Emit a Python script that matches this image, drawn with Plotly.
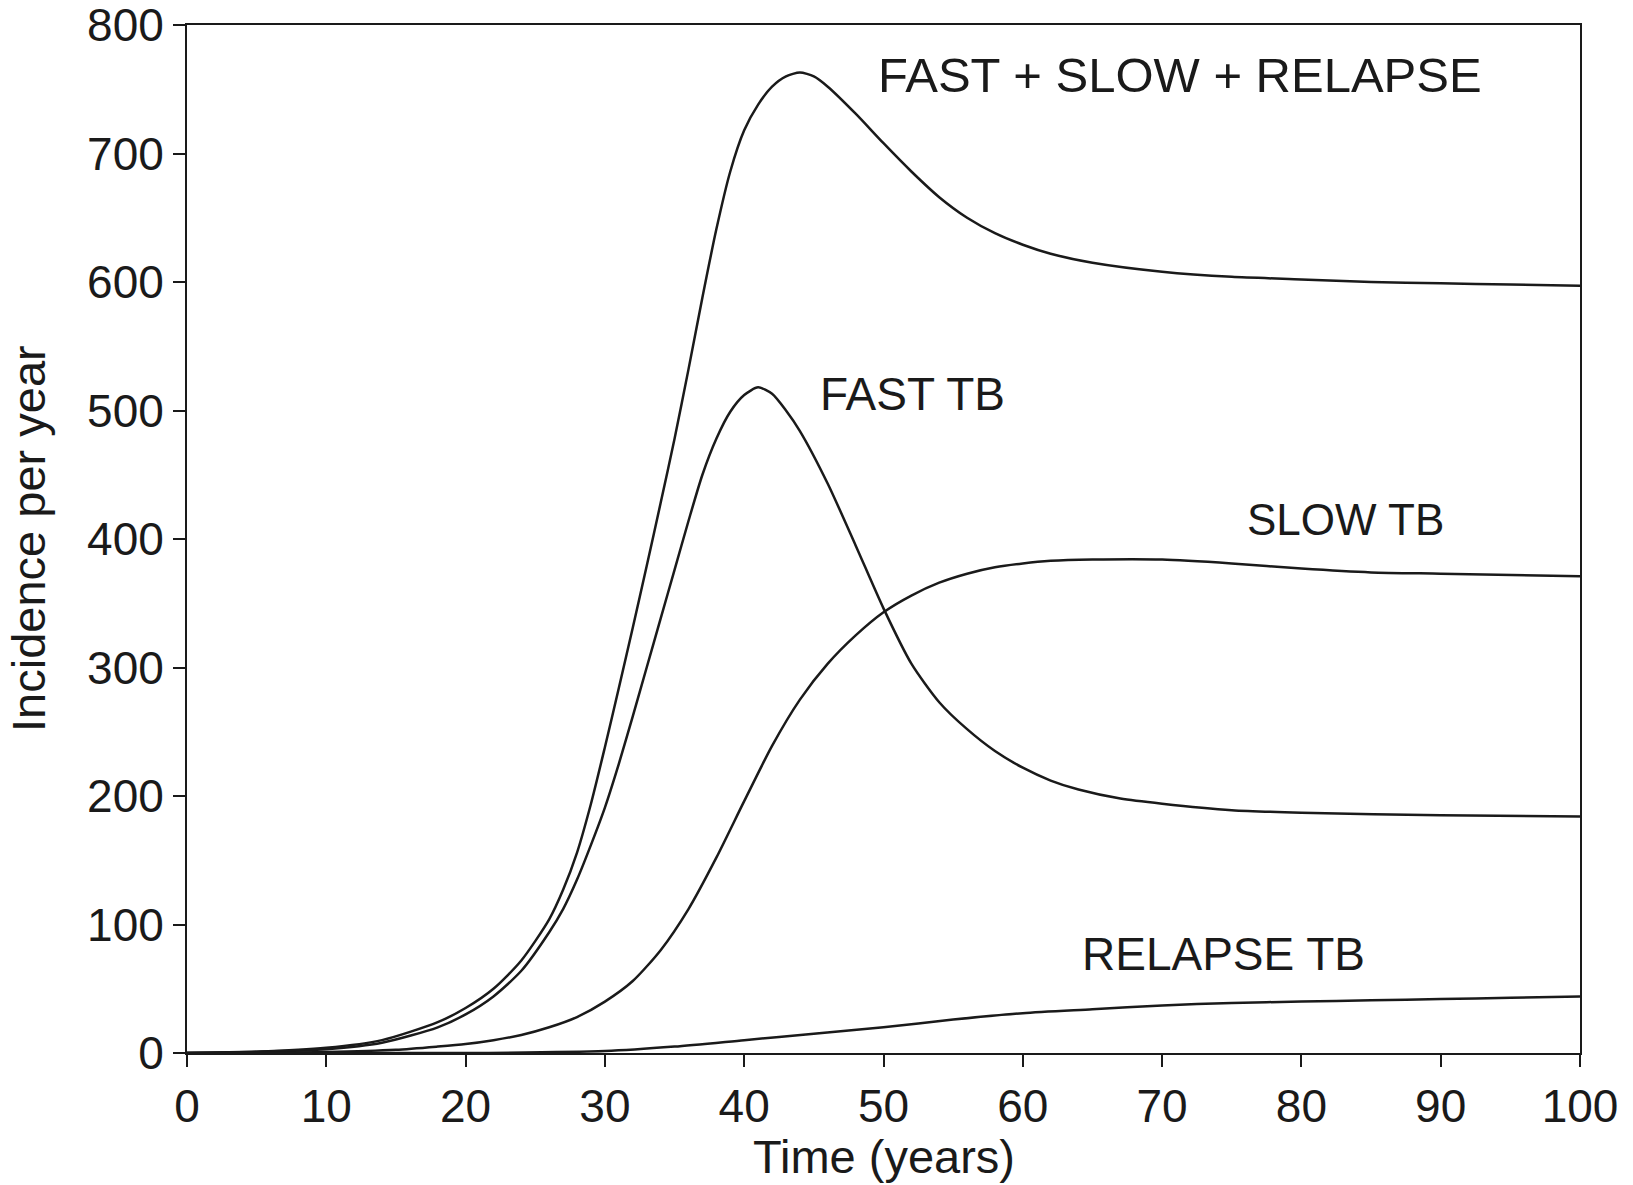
import plotly.graph_objects as go

# Time points (years) and incidence per year
t_total = [0, 5, 10, 14, 18, 20, 22, 24, 26, 27, 28, 29, 30, 31, 32, 33, 34, 35, 36, 37, 38, 39, 40, 41, 42, 43, 44, 45, 46, 48, 50, 52, 54, 56, 58, 60, 62, 65, 70, 75, 80, 85, 90, 95, 100]
total = [0, 1, 4, 10, 24, 35, 50, 72, 104, 127, 156, 194, 238, 284, 331, 379, 428, 478, 532, 588, 641, 686, 718, 738, 752, 760, 763, 760, 752, 731, 708, 686, 666, 650, 638, 629, 622, 615, 608, 604, 602, 600, 599, 598, 597]

t_fast = [0, 5, 10, 14, 18, 20, 22, 24, 26, 27, 28, 29, 30, 31, 32, 33, 34, 35, 36, 37, 38, 39, 40, 41, 42, 43, 44, 46, 48, 50, 52, 54, 56, 58, 60, 62, 64, 67, 70, 75, 80, 90, 100]
fast = [0, 1, 3, 8, 20, 30, 44, 64, 94, 112, 135, 162, 191, 225, 262, 300, 338, 376, 414, 450, 478, 499, 512, 518, 513, 500, 484, 443, 395, 346, 303, 273, 252, 235, 222, 212, 205, 198, 194, 189, 187, 185, 184]

t_slow = [0, 10, 15, 18, 20, 22, 24, 26, 28, 30, 32, 34, 36, 38, 40, 42, 44, 46, 48, 50, 52, 54, 56, 58, 60, 62, 65, 70, 75, 80, 85, 90, 100]
slow = [0, 0.8, 2.5, 5, 7, 10, 14, 20, 28, 40, 56, 80, 112, 152, 196, 239, 275, 303, 325, 343, 356, 366, 373, 378, 381, 383, 384, 384, 381, 377, 374, 373, 371]

t_relapse = [0, 20, 30, 35, 40, 45, 50, 55, 60, 65, 70, 75, 80, 85, 90, 95, 100]
relapse = [0, 0, 1.5, 5, 10, 15, 20, 26, 31, 34, 37, 39, 40, 41, 42, 43, 44]

x_ticks = [0, 10, 20, 30, 40, 50, 60, 70, 80, 90, 100]
y_ticks = [0, 100, 200, 300, 400, 500, 600, 700, 800]

labels = ["FAST + SLOW + RELAPSE", "FAST TB", "SLOW TB", "RELAPSE TB"]
label_x = [71.25, 52.1, 83.2, 74.4]
label_y = [761, 513, 415, 77]
label_size = [49, 46, 44, 46]

FONT = "Liberation Sans, Arial, Helvetica, sans-serif"
INK = "#1a1a1a"

fig = go.Figure()
for tx, ty in [(t_total, total), (t_fast, fast), (t_slow, slow), (t_relapse, relapse)]:
    fig.add_trace(go.Scatter(x=tx, y=ty, mode="lines",
                             line=dict(color=INK, width=2.5, shape="spline", smoothing=0.7),
                             showlegend=False, hoverinfo="skip"))

for txt, lx, ly, sz in zip(labels, label_x, label_y, label_size):
    fig.add_annotation(x=lx, y=ly, xref="x", yref="y", text=txt, showarrow=False,
                       xanchor="center", yanchor="middle",
                       font=dict(family=FONT, size=sz, color=INK))

fig.add_annotation(x=0.5, y=0, xref="paper", yref="paper", text="Time (years)",
                   showarrow=False, xanchor="center", yanchor="middle", yshift=-103,
                   font=dict(family=FONT, size=47, color=INK))
fig.add_annotation(x=0, y=0.5, xref="paper", yref="paper", text="Incidence per year",
                   showarrow=False, xanchor="center", yanchor="middle", xshift=-159,
                   textangle=-90, font=dict(family=FONT, size=47, color=INK))

axis_common = dict(showline=True, linecolor=INK, linewidth=2, mirror=True,
                   ticks="outside", ticklen=12, tickwidth=2, tickcolor=INK,
                   showgrid=False, zeroline=False, ticklabeloverflow="allow",
                   automargin=False,
                   tickfont=dict(family=FONT, size=46, color=INK))

fig.update_xaxes(range=[0, 100], tickvals=x_ticks, ticktext=[str(v) for v in x_ticks], **axis_common)
fig.update_yaxes(range=[0, 800], tickvals=y_ticks, ticktext=[str(v) for v in y_ticks], **axis_common)

fig.update_layout(width=1633, height=1185,
                  margin=dict(l=187, r=53, t=25, b=132),
                  paper_bgcolor="white", plot_bgcolor="white",
                  font=dict(family=FONT, color=INK))

fig.write_html("out.html")
